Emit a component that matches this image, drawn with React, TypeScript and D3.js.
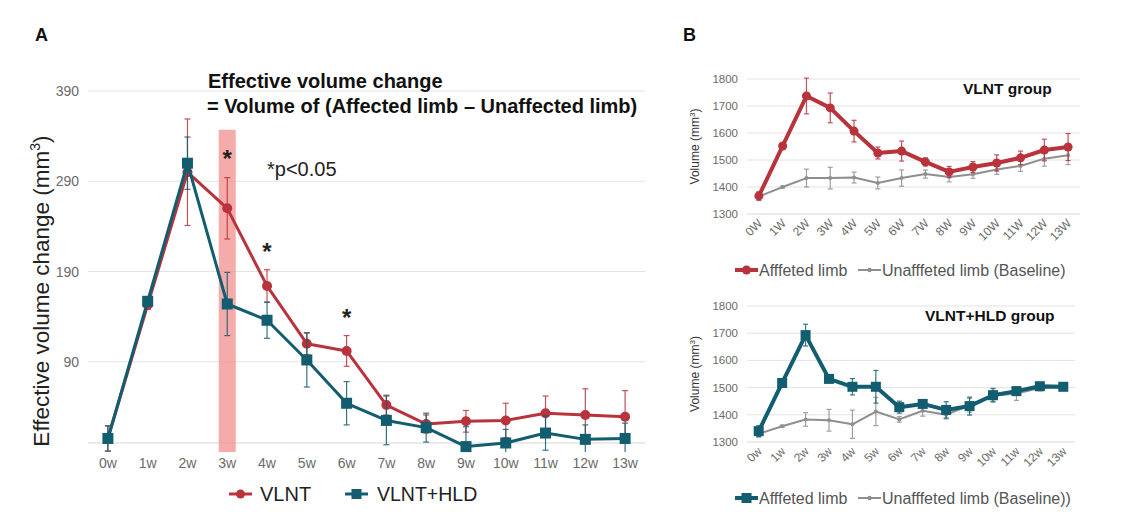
import React from 'react';
import * as d3 from 'd3';

// ---------- Panel A: effective volume change ----------
const weeksA = ['0w', '1w', '2w', '3w', '4w', '5w', '6w', '7w', '8w', '9w', '10w', '11w', '12w', '13w'];
const vlntEff = [5, 153, 300, 260, 174, 110, 102, 42, 21, 24, 25, 33, 31, 29];
const vlntEffErr = [14, 5, 59, 34, 18, 12, 17, 11, 10, 12, 19, 19, 29, 29];
const hldEff = [5, 157, 310, 154, 136, 92, 44, 25, 17, -4, 0, 11, 4, 5];
const hldEffErr = [14, 5, 29, 35, 20, 30, 24, 27, 16, 22, 15, 19, 16, 17];
const ticksA = [90, 190, 290, 390];
const sigWeeks = ['3w', '4w', '6w'];

// ---------- Panel B: limb volumes ----------
const weeksTop = ['0W', '1W', '2W', '3W', '4W', '5W', '6W', '7W', '8W', '9W', '10W', '11W', '12W', '13W'];
const weeksBottom = ['0w', '1w', '2w', '3w', '4w', '5w', '6w', '7w', '8w', '9w', '10w', '11w', '12w', '13w'];
const ticksB = [1300, 1400, 1500, 1600, 1700, 1800];

const vlntAffected = [1367, 1552, 1737, 1693, 1607, 1526, 1533, 1493, 1456, 1474, 1489, 1508, 1537, 1548];
const vlntAffectedErr = [15, 6, 66, 55, 40, 22, 37, 15, 20, 20, 30, 25, 40, 50];
const vlntBaseline = [1365, 1400, 1433, 1433, 1435, 1415, 1433, 1448, 1437, 1447, 1465, 1478, 1505, 1518];
const vlntBaselineErr = [15, 4, 33, 40, 20, 22, 30, 15, 18, 15, 18, 20, 28, 35];

const hldAffected = [1340, 1517, 1693, 1532, 1503, 1503, 1428, 1440, 1418, 1432, 1472, 1487, 1505, 1503];
const hldAffectedErr = [20, 8, 40, 10, 30, 60, 22, 10, 30, 33, 25, 10, 10, 8];
const hldBaseline = [1330, 1358, 1383, 1380, 1365, 1412, 1383, 1415, 1400, 1435, 1470, 1478, 1498, 1500];
const hldBaselineErr = [12, 4, 25, 40, 52, 52, 10, 20, 15, 25, 20, 25, 10, 10];

const RED = '#b8333c';
const TEAL = '#125d6f';
const GRAY = '#8f8f8f';
const GRID = '#e3e3e3';
const TICK = '#6b6b6b';
const FONT = 'Arial, "Liberation Sans", Helvetica, sans-serif';

type SeriesProps = {
  x: d3.ScaleBand<string>;
  y: d3.ScaleLinear<number, number>;
  cats: string[];
  values: number[];
  errs: number[];
  color: string;
  width: number;
  marker: 'circle' | 'square';
  size: number;
  capW?: number;
  floor?: number;
};

function Series({ x, y, cats, values, errs, color, width, marker, size, capW = 3, floor }: SeriesProps) {
  const cx = (c: string) => (x(c) as number) + x.bandwidth() / 2;
  const line = d3
    .line<number>()
    .x((_, i) => cx(cats[i]))
    .y((v) => y(v));
  const lowOf = (v: number, e: number) => (floor === undefined ? v - e : Math.max(v - e, floor));
  return (
    <g>
      {values.map((v, i) => {
        const lo = lowOf(v, errs[i]);
        const clipped = floor !== undefined && v - errs[i] < floor;
        return (
          <g key={'e' + i} stroke={color} strokeWidth={1.2} opacity={0.85}>
            <line x1={cx(cats[i])} x2={cx(cats[i])} y1={y(lo)} y2={y(v + errs[i])} />
            <line x1={cx(cats[i]) - capW} x2={cx(cats[i]) + capW} y1={y(v + errs[i])} y2={y(v + errs[i])} />
            {!clipped && (
              <line x1={cx(cats[i]) - capW} x2={cx(cats[i]) + capW} y1={y(lo)} y2={y(lo)} />
            )}
          </g>
        );
      })}
      <path d={line(values) || ''} fill="none" stroke={color} strokeWidth={width} strokeLinejoin="round" />
      {values.map((v, i) =>
        marker === 'circle' ? (
          <circle key={'m' + i} cx={cx(cats[i])} cy={y(v)} r={size} fill={color} />
        ) : (
          <rect key={'m' + i} x={cx(cats[i]) - size} y={y(v) - size} width={size * 2} height={size * 2} fill={color} />
        )
      )}
    </g>
  );
}

function PanelA() {
  const x = d3.scaleBand<string>().domain(weeksA).range([88, 645]);
  const y = d3.scaleLinear().domain([-10, 390]).range([452, 91]);
  const cx = (c: string) => (x(c) as number) + x.bandwidth() / 2;
  return (
    <g fontFamily={FONT}>
      {ticksA.map((t) => (
        <g key={t}>
          <line x1={88} x2={645} y1={y(t)} y2={y(t)} stroke={GRID} strokeWidth={1} />
          <text x={79} y={y(t) + 5} textAnchor="end" fontSize={14} fill={TICK}>
            {t}
          </text>
        </g>
      ))}
      <line x1={88} x2={645} y1={y(0)} y2={y(0)} stroke="#d6d6d6" strokeWidth={1} />
      {/* highlighted week */}
      <rect x={cx('3w') - 8.5} y={y(347)} width={17} height={y(-10) - y(347)} fill="#f38f8f" opacity={0.75} />
      {weeksA.map((w) => (
        <text key={w} x={cx(w)} y={468} textAnchor="middle" fontSize={14} fill={TICK}>
          {w}
        </text>
      ))}
      <Series x={x} y={y} cats={weeksA} values={vlntEff} errs={vlntEffErr} color={RED} width={3} marker="circle" size={5} floor={-10} />
      <Series x={x} y={y} cats={weeksA} values={hldEff} errs={hldEffErr} color={TEAL} width={3} marker="square" size={5.5} floor={-10} />
      {sigWeeks.map((w, i) => {
        const k = weeksA.indexOf(w);
        const top = vlntEff[k] + vlntEffErr[k];
        return (
          <text key={w} x={cx(w)} y={y(top) - 10 + (i === 0 ? -1 : 0)} textAnchor="middle" fontSize={24} fontWeight="bold" fill="#222">
            *
          </text>
        );
      })}
      <text x={267} y={176} fontSize={20} fill="#222">
        *p&lt;0.05
      </text>
      <text x={208} y={88} fontSize={20} fontWeight="bold" fill="#111">
        Effective volume change
      </text>
      <text x={207} y={113} fontSize={20} fontWeight="bold" fill="#111">
        = Volume of (Affected limb – Unaffected limb)
      </text>
      <text transform="translate(49,291) rotate(-90)" textAnchor="middle" fontSize={22.5} fill="#222">
        Effective volume change (mm
        <tspan dy={-9} fontSize={14}>3</tspan>
        <tspan dy={9}>)</tspan>
      </text>
      {/* legend */}
      <line x1={229} x2={252} y1={494} y2={494} stroke={RED} strokeWidth={3} />
      <circle cx={240.5} cy={494} r={4.5} fill={RED} />
      <text x={260} y={501} fontSize={20} fill="#222">
        VLNT
      </text>
      <line x1={345} x2={368} y1={494} y2={494} stroke={TEAL} strokeWidth={3} />
      <rect x={351.5} y={489} width={10} height={10} fill={TEAL} />
      <text x={377} y={501} fontSize={19.5} fill="#222">
        VLNT+HLD
      </text>
      <text x={35} y={41} fontSize={18} fontWeight="bold" fill="#111">
        A
      </text>
    </g>
  );
}

type PanelBProps = {
  top: number;
  bottom: number;
  left: number;
  right: number;
  cats: string[];
  affected: number[];
  affectedErr: number[];
  baseline: number[];
  baselineErr: number[];
  color: string;
  marker: 'circle' | 'square';
  title: string;
  titleX: number;
  legendY: number;
  legendBaseline: string;
};

function PanelB(p: PanelBProps) {
  const x = d3.scaleBand<string>().domain(p.cats).range([p.left, p.right]);
  const y = d3.scaleLinear().domain([1300, 1800]).range([p.bottom, p.top]);
  const cx = (c: string) => (x(c) as number) + x.bandwidth() / 2;
  return (
    <g fontFamily={FONT}>
      {ticksB.map((t) => (
        <g key={t}>
          <line x1={p.left} x2={p.right} y1={y(t)} y2={y(t)} stroke={t === 1300 ? '#d6d6d6' : GRID} strokeWidth={1} />
          <text x={p.left - 9} y={y(t) + 4} textAnchor="end" fontSize={11.5} fill={TICK}>
            {t}
          </text>
        </g>
      ))}
      {p.cats.map((c) => (
        <text
          key={c}
          transform={`translate(${cx(c) + 4},${p.bottom + 10}) rotate(-45)`}
          textAnchor="end"
          fontSize={12}
          fill={TICK}
        >
          {c}
        </text>
      ))}
      <text
        transform={`translate(${p.left - 48},${(p.top + p.bottom) / 2}) rotate(-90)`}
        textAnchor="middle"
        fontSize={12}
        fill="#333"
      >
        Volume (mm
        <tspan dy={-4} fontSize={8}>3</tspan>
        <tspan dy={4}>)</tspan>
      </text>
      <Series x={x} y={y} cats={p.cats} values={p.baseline} errs={p.baselineErr} color={GRAY} width={2} marker="circle" size={2} capW={2.5} />
      <Series
        x={x}
        y={y}
        cats={p.cats}
        values={p.affected}
        errs={p.affectedErr}
        color={p.color}
        width={4}
        marker={p.marker}
        size={p.marker === 'circle' ? 4.5 : 5}
        capW={2.5}
      />
      <text x={p.titleX} y={p.top + 15} fontSize={15.5} fontWeight="bold" fill="#111">
        {p.title}
      </text>
      {/* legend */}
      <line x1={735} x2={758} y1={p.legendY} y2={p.legendY} stroke={p.color} strokeWidth={4} />
      {p.marker === 'circle' ? (
        <circle cx={746.5} cy={p.legendY} r={4.5} fill={p.color} />
      ) : (
        <rect x={741.5} y={p.legendY - 5} width={10} height={10} fill={p.color} />
      )}
      <text x={759} y={p.legendY + 6} fontSize={16} fill="#555">
        Afffeted limb
      </text>
      <line x1={858} x2={881} y1={p.legendY} y2={p.legendY} stroke={GRAY} strokeWidth={2} />
      <circle cx={869.5} cy={p.legendY} r={2.2} fill={GRAY} />
      <text x={882} y={p.legendY + 6} fontSize={16} fill="#555">
        {p.legendBaseline}
      </text>
    </g>
  );
}

export default function App() {
  return (
    <svg
      width={1125}
      height={531}
      viewBox="0 0 1125 531"
      style={{ position: 'absolute', left: 0, top: 0, background: '#fff' }}
    >
      <rect width={1125} height={531} fill="#fff" />
      <PanelA />
      <PanelB
        top={79}
        bottom={214}
        left={747}
        right={1080}
        cats={weeksTop}
        affected={vlntAffected}
        affectedErr={vlntAffectedErr}
        baseline={vlntBaseline}
        baselineErr={vlntBaselineErr}
        color={RED}
        marker="circle"
        title="VLNT group"
        titleX={963}
        legendY={270}
        legendBaseline="Unafffeted limb (Baseline)"
      />
      <PanelB
        top={306}
        bottom={442}
        left={747}
        right={1075}
        cats={weeksBottom}
        affected={hldAffected}
        affectedErr={hldAffectedErr}
        baseline={hldBaseline}
        baselineErr={hldBaselineErr}
        color={TEAL}
        marker="square"
        title="VLNT+HLD group"
        titleX={925}
        legendY={498}
        legendBaseline="Unafffeted limb (Baseline))"
      />
      <text x={683} y={41} fontSize={18} fontWeight="bold" fill="#111" fontFamily={FONT}>
        B
      </text>
    </svg>
  );
}
